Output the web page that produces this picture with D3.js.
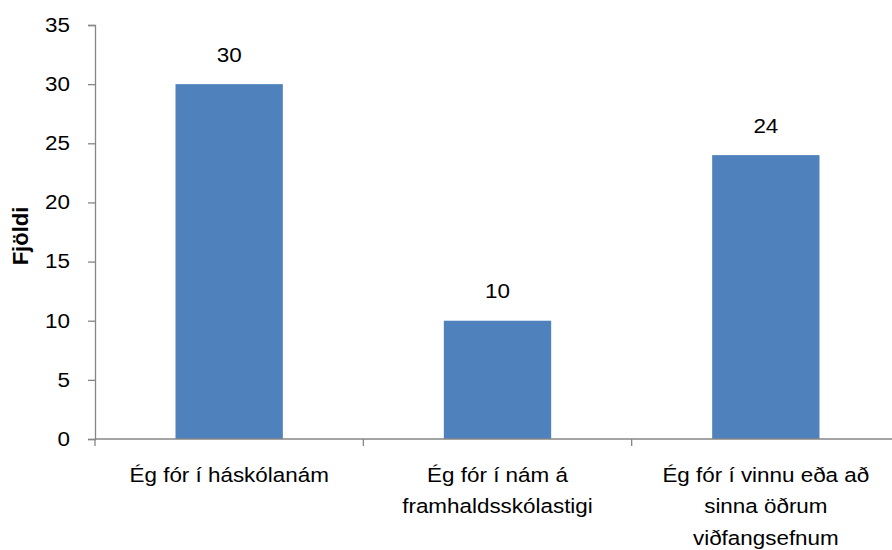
<!DOCTYPE html>
<html>
<head>
<meta charset="utf-8">
<script src="https://cdn.jsdelivr.net/npm/d3@7"></script>
<style>
  body { margin: 0; background: #fff; }
  text { font-family: "Liberation Sans", Arial, sans-serif; fill: #000; }
</style>
</head>
<body>
<script>
var categories = [
  ["Ég fór í háskólanám"],
  ["Ég fór í nám á", "framhaldsskólastigi"],
  ["Ég fór í vinnu eða að", "sinna öðrum", "viðfangsefnum"]
];
var values = [30, 10, 24];
var yTicks = [0, 5, 10, 15, 20, 25, 30, 35];
var yTitle = "Fjöldi";

var size = ({ width: 892, height: 550 });
var axisColor = "#868686";
var barColor = "#4f81bd";
var fontSize = 19.5;
var sx = 1.15; // the reference type is a bit wider than Liberation Sans

var svg = d3.select("body").append("svg")
  .attr("width", size.width)
  .attr("height", size.height);

var x = d3.scaleBand()
  .domain(d3.range(categories.length))
  .range([95, 900])
  .paddingInner(0.6)
  .paddingOuter(0.3);

var y = d3.scaleLinear()
  .domain([0, 35])
  .range([439, 25]);

// y axis, labels drawn by hand so they can be stretched
var yAxis = svg.append("g")
  .attr("transform", "translate(95,0)")
  .call(d3.axisLeft(y).tickValues(yTicks).tickSize(7).tickFormat(""));
yAxis.select(".domain").attr("stroke", axisColor).attr("stroke-width", 1.3);
yAxis.selectAll(".tick line").attr("stroke", axisColor).attr("stroke-width", 1.3);

svg.selectAll("text.ytick")
  .data(yTicks)
  .join("text")
  .attr("class", "ytick")
  .attr("transform", d => "translate(70," + y(d) + ") scale(" + sx + ",1)")
  .attr("text-anchor", "end")
  .attr("dy", "0.35em")
  .attr("font-size", fontSize)
  .text(d => d);

// bars
svg.selectAll("rect.bar")
  .data(values)
  .join("rect")
  .attr("class", "bar")
  .attr("x", (d, i) => x(i))
  .attr("y", d => y(d))
  .attr("width", x.bandwidth())
  .attr("height", d => y(0) - y(d))
  .attr("fill", barColor);

// x axis line and category ticks
var step = x.step();
var xStart = 95, xEnd = 900;
svg.append("line")
  .attr("x1", xStart).attr("x2", xEnd)
  .attr("y1", y(0)).attr("y2", y(0))
  .attr("stroke", axisColor).attr("stroke-width", 1.3);
svg.selectAll("line.xtick")
  .data(d3.range(categories.length + 1))
  .join("line")
  .attr("class", "xtick")
  .attr("x1", i => xStart + i * step)
  .attr("x2", i => xStart + i * step)
  .attr("y1", y(0))
  .attr("y2", y(0) + 7)
  .attr("stroke", axisColor).attr("stroke-width", 1.3);

// value labels
svg.selectAll("text.val")
  .data(values)
  .join("text")
  .attr("class", "val")
  .attr("transform", (d, i) => "translate(" + (x(i) + x.bandwidth() / 2) + "," + (y(d) - 22.5) + ") scale(" + sx + ",1)")
  .attr("text-anchor", "middle")
  .attr("font-size", fontSize)
  .text(d => d);

// category labels
var labels = svg.selectAll("text.cat")
  .data(categories)
  .join("text")
  .attr("class", "cat")
  .attr("text-anchor", "middle")
  .attr("font-size", fontSize)
  .attr("transform", (d, i) => "translate(" + (x(i) + x.bandwidth() / 2) + ",482) scale(" + sx + ",1)");
labels.selectAll("tspan")
  .data(d => d)
  .join("tspan")
  .attr("x", 0)
  .attr("y", (d, j) => j * 31.5)
  .text(d => d);

// y title
svg.append("text")
  .attr("transform", "translate(28,236) rotate(-90)")
  .attr("text-anchor", "middle")
  .attr("font-size", 22)
  .attr("font-weight", "bold")
  .text(yTitle);
</script>
</body>
</html>
